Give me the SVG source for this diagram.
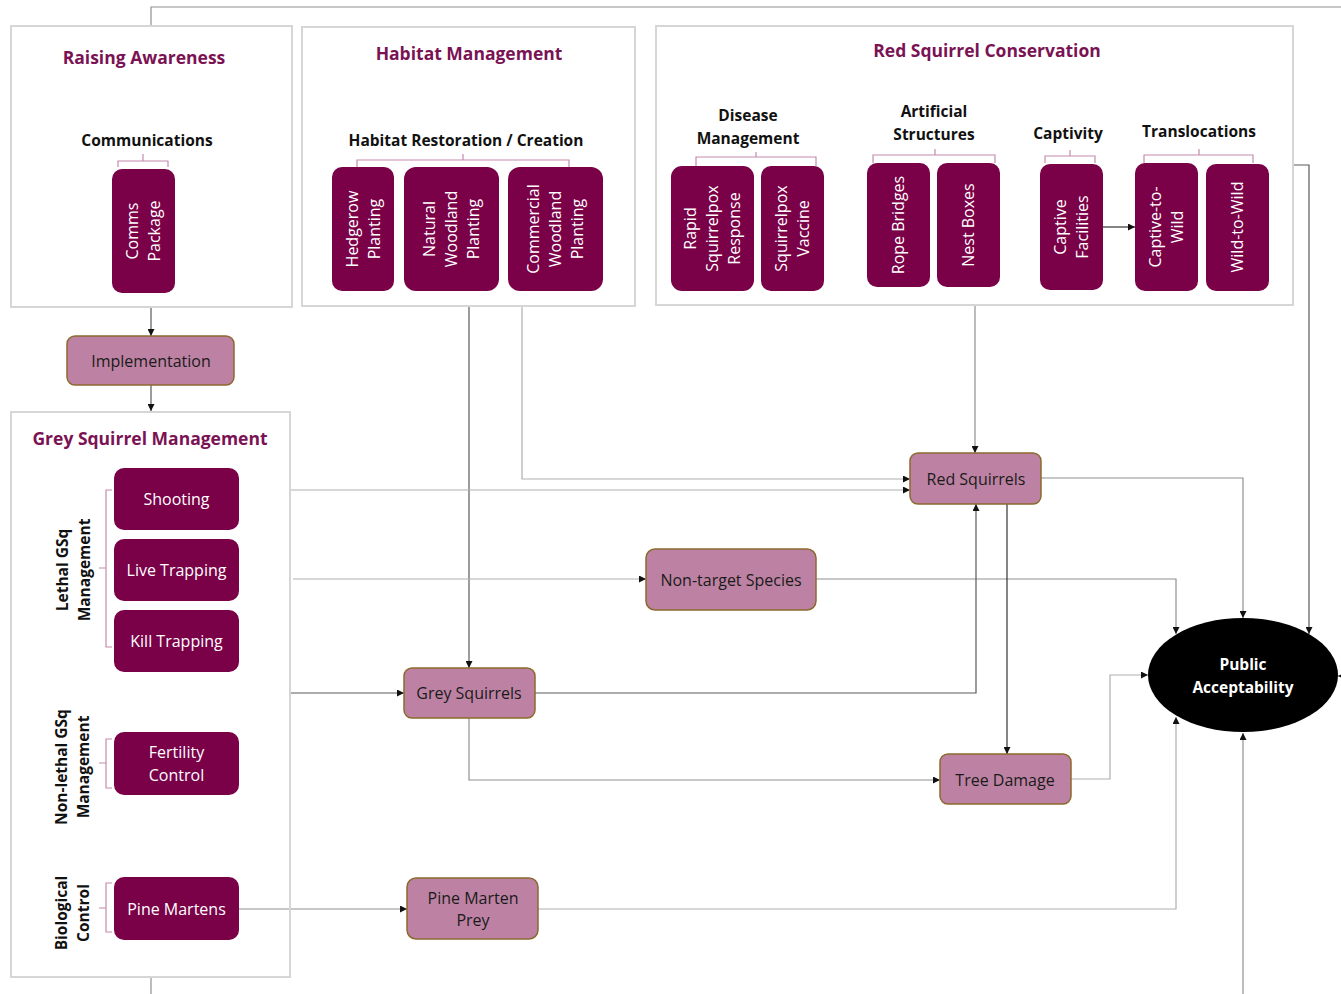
<svg xmlns="http://www.w3.org/2000/svg" width="1341" height="994" viewBox="0 0 1341 994">
<style>
text{font-family:"Open Sans","Liberation Sans",sans-serif}
.grp{fill:none;stroke:#d6d6d6;stroke-width:2}
.title{font-weight:700;font-size:17.5px;fill:#7a1254;text-anchor:middle}
.sub{font-weight:700;font-size:15.5px;fill:#111;text-anchor:middle}
.dk{fill:#7a0048}
.dt{fill:#fff;font-size:16px;text-anchor:middle}
.lt{fill:#bd82a3;stroke:#8c6a2e;stroke-width:1.5}
.ltt{fill:#1a1a1a;font-size:16px;text-anchor:middle}
.br{fill:none;stroke:#c48bb0;stroke-width:1.2}
.c{fill:none;stroke-width:1.2;marker-end:url(#a)}
.n{fill:none;stroke-width:1.2}
.g1{stroke:#b0b0b0}.g2{stroke:#909090}.g3{stroke:#5a5a5a}.g4{stroke:#333}
</style>
<defs>
<marker id="a" viewBox="0 0 10 10" refX="10" refY="5" markerWidth="7" markerHeight="7" orient="auto" markerUnits="userSpaceOnUse"><path d="M0,0 L10,5 L0,10 z" fill="#111"/></marker>
</defs>

<g id="connectors">
<path class="n g2" d="M151,26 V7 H1341"/>
<path class="n g2" d="M151,976 V994"/>
<path class="c g2" d="M1341,676 H1338"/>
<path class="c g2" d="M1243,994 V733"/>
<path class="c g3" d="M151,307 V336"/>
<path class="c g3" d="M151,385 V411"/>
<path class="c g3" d="M469,306 V668"/>
<path class="c g1" d="M522,306 V479 H910"/>
<path class="c g1" d="M290,490 H910"/>
<path class="c g2" d="M975,305 V453"/>
<path class="c g1" d="M293,579 H646"/>
<path class="c g2" d="M816,579 H1176 V634"/>
<path class="c g3" d="M290,693 H404"/>
<path class="c g3" d="M535,693 H976 V504"/>
<path class="c g2" d="M469,718 V780 H940"/>
<path class="c g4" d="M1007,504 V754"/>
<path class="c g2" d="M1041,478 H1243 V618"/>
<path class="c g3" d="M1293,165 H1309 V634"/>
<path class="c g1" d="M1071,779 H1110 V675 H1148"/>
<path class="c g2" d="M239,909 H407"/>
<path class="c g1" d="M538,909 H1176 V717"/>
<path class="c g4" d="M1103,227 H1135"/>
</g>

<g id="raising-awareness">
<rect class="grp" x="11" y="26" width="281" height="281"/>
<text class="title" x="144" y="64">Raising Awareness</text>
<text class="sub" x="147" y="146">Communications</text>
<path class="br" d="M118,167 V161 H168 V167 M143,161 V154"/>
</g>
<g id="comms-package">
<rect class="dk" x="112" y="169" width="63" height="124" rx="10"/>
<text class="dt" transform="translate(143.5,231) rotate(-90)"><tspan x="0" y="-5.4">Comms</tspan><tspan x="0" y="16.6">Package</tspan></text>
</g>

<g id="habitat-management">
<rect class="grp" x="302" y="27" width="333" height="279"/>
<text class="title" x="469" y="60">Habitat Management</text>
<text class="sub" x="466" y="146">Habitat Restoration / Creation</text>
<path class="br" d="M357,167 V160 H569 V167 M463,160 V154"/>
</g>
<g id="hedgerow">
<rect class="dk" x="332" y="167" width="62" height="124" rx="10"/>
<text class="dt" transform="translate(363,229) rotate(-90)"><tspan x="0" y="-5.4">Hedgerow</tspan><tspan x="0" y="16.6">Planting</tspan></text>
</g>
<g id="natural-woodland">
<rect class="dk" x="404" y="167" width="95" height="124" rx="12"/>
<text class="dt" transform="translate(451.5,229) rotate(-90)"><tspan x="0" y="-16.4">Natural</tspan><tspan x="0" y="5.6">Woodland</tspan><tspan x="0" y="27.6">Planting</tspan></text>
</g>
<g id="commercial-woodland">
<rect class="dk" x="508" y="167" width="95" height="124" rx="12"/>
<text class="dt" transform="translate(555.5,229) rotate(-90)"><tspan x="0" y="-16.4">Commercial</tspan><tspan x="0" y="5.6">Woodland</tspan><tspan x="0" y="27.6">Planting</tspan></text>
</g>

<g id="red-squirrel-conservation">
<rect class="grp" x="656" y="26" width="637" height="279"/>
<text class="title" x="987" y="57">Red Squirrel Conservation</text>
<text class="sub" x="748" y="121">Disease</text>
<text class="sub" x="748" y="144">Management</text>
<text class="sub" x="934" y="117">Artificial</text>
<text class="sub" x="934" y="140">Structures</text>
<text class="sub" x="1068" y="139">Captivity</text>
<text class="sub" x="1199" y="137">Translocations</text>
<path class="br" d="M696,166 V157 H816 V166 M756,157 V152"/>
<path class="br" d="M873,163 V155 H995 V163 M935,155 V149"/>
<path class="br" d="M1045,163 V156 H1095 V163 M1070,156 V150"/>
<path class="br" d="M1144,163 V155 H1253 V163 M1199,155 V149"/>
</g>
<g id="rapid-squirrelpox">
<rect class="dk" x="671" y="166" width="83" height="125" rx="11"/>
<text class="dt" transform="translate(712.5,228.5) rotate(-90)"><tspan x="0" y="-16.4">Rapid</tspan><tspan x="0" y="5.6">Squirrelpox</tspan><tspan x="0" y="27.6">Response</tspan></text>
</g>
<g id="squirrelpox-vaccine">
<rect class="dk" x="761" y="166" width="63" height="125" rx="10"/>
<text class="dt" transform="translate(792.5,228.5) rotate(-90)"><tspan x="0" y="-5.4">Squirrelpox</tspan><tspan x="0" y="16.6">Vaccine</tspan></text>
</g>
<g id="rope-bridges">
<rect class="dk" x="867" y="163" width="63" height="124" rx="10"/>
<text class="dt" transform="translate(898.5,225) rotate(-90)"><tspan x="0" y="5.6">Rope Bridges</tspan></text>
</g>
<g id="nest-boxes">
<rect class="dk" x="937" y="163" width="63" height="124" rx="10"/>
<text class="dt" transform="translate(968.5,225) rotate(-90)"><tspan x="0" y="5.6">Nest Boxes</tspan></text>
</g>
<g id="captive-facilities">
<rect class="dk" x="1040" y="164" width="63" height="126" rx="10"/>
<text class="dt" transform="translate(1071.5,227) rotate(-90)"><tspan x="0" y="-5.4">Captive</tspan><tspan x="0" y="16.6">Facilities</tspan></text>
</g>
<g id="captive-to-wild">
<rect class="dk" x="1135" y="163" width="63" height="128" rx="10"/>
<text class="dt" transform="translate(1166.5,227) rotate(-90)"><tspan x="0" y="-5.4">Captive-to-</tspan><tspan x="0" y="16.6">Wild</tspan></text>
</g>
<g id="wild-to-wild">
<rect class="dk" x="1206" y="164" width="63" height="127" rx="10"/>
<text class="dt" transform="translate(1237.5,227) rotate(-90)"><tspan x="0" y="5.6">Wild-to-Wild</tspan></text>
</g>

<g id="implementation">
<rect class="lt" x="67" y="336" width="167" height="49" rx="8"/>
<text class="ltt" x="151" y="367">Implementation</text>
</g>

<g id="grey-squirrel-management">
<rect class="grp" x="11" y="412" width="279" height="565"/>
<text class="title" x="150" y="445">Grey Squirrel Management</text>
<text class="sub" transform="translate(73,570) rotate(-90)"><tspan x="0" y="-5.4">Lethal GSq</tspan><tspan x="0" y="16.6">Management</tspan></text>
<text class="sub" transform="translate(72,767) rotate(-90)"><tspan x="0" y="-5.4">Non-lethal GSq</tspan><tspan x="0" y="16.6">Management</tspan></text>
<text class="sub" transform="translate(72,913) rotate(-90)"><tspan x="0" y="-5.4">Biological</tspan><tspan x="0" y="16.6">Control</tspan></text>
<path class="br" d="M112,490 H106 V647 H112 M106,568 H99"/>
<path class="br" d="M112,739 H106 V788 H112 M106,763 H99"/>
<path class="br" d="M112,883 H106 V932 H112 M106,908 H99"/>
</g>
<g id="shooting">
<rect class="dk" x="114" y="468" width="125" height="62" rx="10"/>
<text class="dt" x="176.5" y="505">Shooting</text>
</g>
<g id="live-trapping">
<rect class="dk" x="114" y="539" width="125" height="62" rx="10"/>
<text class="dt" x="176.5" y="576">Live Trapping</text>
</g>
<g id="kill-trapping">
<rect class="dk" x="114" y="610" width="125" height="62" rx="10"/>
<text class="dt" x="176.5" y="647">Kill Trapping</text>
</g>
<g id="fertility-control">
<rect class="dk" x="114" y="732" width="125" height="63" rx="10"/>
<text class="dt" x="176.5" y="758">Fertility</text>
<text class="dt" x="176.5" y="781">Control</text>
</g>
<g id="pine-martens">
<rect class="dk" x="114" y="877" width="125" height="63" rx="10"/>
<text class="dt" x="176.5" y="915">Pine Martens</text>
</g>

<g id="red-squirrels">
<rect class="lt" x="910" y="453" width="131" height="51" rx="8"/>
<text class="ltt" x="976" y="485">Red Squirrels</text>
</g>
<g id="non-target-species">
<rect class="lt" x="646" y="549" width="170" height="61" rx="9"/>
<text class="ltt" x="731" y="586">Non-target Species</text>
</g>
<g id="grey-squirrels">
<rect class="lt" x="404" y="668" width="131" height="50" rx="8"/>
<text class="ltt" x="469" y="699">Grey Squirrels</text>
</g>
<g id="tree-damage">
<rect class="lt" x="940" y="754" width="131" height="50" rx="8"/>
<text class="ltt" x="1005" y="786">Tree Damage</text>
</g>
<g id="pine-marten-prey">
<rect class="lt" x="407" y="878" width="131" height="61" rx="9"/>
<text class="ltt" x="473" y="904">Pine Marten</text>
<text class="ltt" x="473" y="926">Prey</text>
</g>

<g id="public-acceptability">
<ellipse cx="1243" cy="675" rx="95" ry="57" fill="#000"/>
<text x="1243" y="670" fill="#fff" font-weight="700" font-size="15.5" text-anchor="middle">Public</text>
<text x="1243" y="693" fill="#fff" font-weight="700" font-size="15.5" text-anchor="middle">Acceptability</text>
</g>
</svg>
